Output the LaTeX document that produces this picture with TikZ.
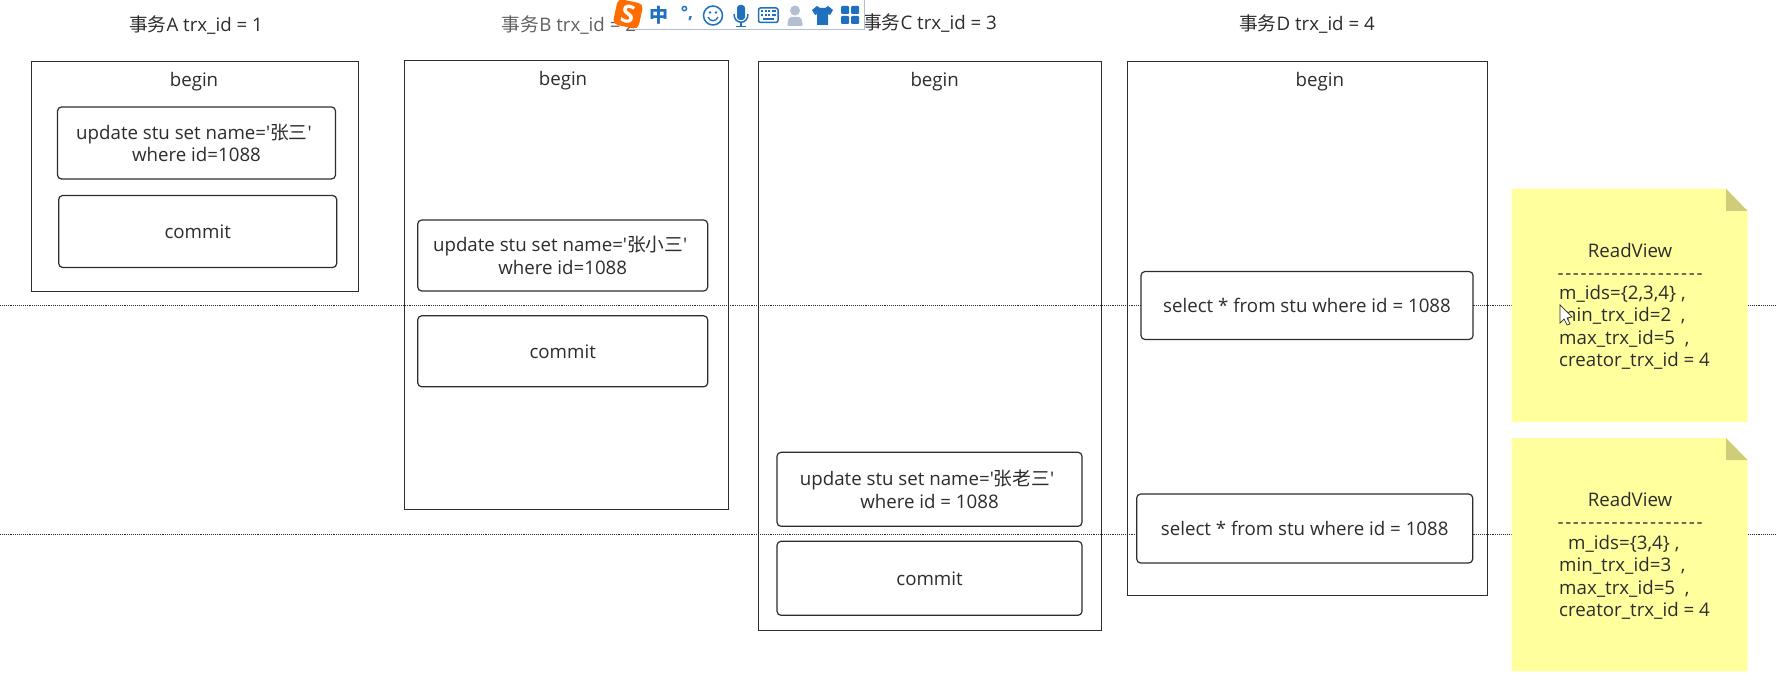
\documentclass[tikz,border=0pt]{standalone}
\usepackage{fontspec}
\setmainfont{Open Sans}
\newfontfamily\cjk{Noto Sans CJK SC}
\usetikzlibrary{positioning}
\definecolor{inkcolor}{RGB}{45,45,45}
\definecolor{notecolor}{RGB}{255,255,158}
\definecolor{foldcolor}{RGB}{205,205,122}
\definecolor{imecolor}{RGB}{32,112,192}
\definecolor{imegrey}{RGB}{178,190,210}
\newcommand{\qname}[1]{name=\textquotesingle{\cjk #1}\textquotesingle\hspace*{5pt}}
\newcommand{\titletext}[2]{{\cjk 事务}#1 trx\_id = #2}
\newcommand{\dashtext}{\foreach \i in {1,...,19}{-\hspace{1.7pt}}}

\begin{document}
\begin{tikzpicture}[
    x=1pt, y=-1pt,
    font=\fontsize{18.7}{22.5}\selectfont,
    every node/.style={text=inkcolor},
    frame/.style={draw=inkcolor, line width=1.2pt, inner sep=0pt},
    stmt/.style={draw=inkcolor, fill=white, line width=1.2pt, rounded corners=4pt, inner sep=0pt, align=center},
    timeline/.style={densely dotted, line width=0.9pt, draw=inkcolor},
    note/.style={fill=notecolor},
    fold/.style={fill=foldcolor},
    icon/.style={fill=imecolor, draw=none}
]
    \useasboundingbox (0,0) rectangle (1784,684);
    \fill[white] (0,0) rectangle (1784,684);

    % time lines
    \coordinate (lineAl) at (0,305);
    \coordinate (lineAr) at (1776,305);
    \coordinate (lineBl) at (0,534);
    \coordinate (lineBr) at (1776,534);
    \draw[timeline] (lineAl) -- (lineAr);
    \draw[timeline] (lineBl) -- (lineBr);

    % titles
    \node (titleA) at (196,25) {\titletext{A}{1}};
    \node[text=inkcolor!75] (titleB) at (569,25) {\titletext{B}{2}};
    \node (titleC) at (930,23.5) {\titletext{C}{3}};
    \node (titleD) at (1307,24.5) {\titletext{D}{4}};

    % transaction frames
    \node[frame, minimum width=327pt, minimum height=230pt] (frameA) at (195,176.5) {};
    \node[frame, minimum width=324pt, minimum height=449pt] (frameB) at (566.5,285) {};
    \node[frame, minimum width=343pt, minimum height=569pt] (frameC) at (929.6,346) {};
    \node[frame, minimum width=360pt, minimum height=534pt] (frameD) at (1307.5,328.5) {};
    \node (beginA) at (194,82) {begin};
    \node (beginB) at (563,81) {begin};
    \node (beginC) at (934.7,82) {begin};
    \node (beginD) at (1319.8,82) {begin};

    % statements
    \node[stmt, minimum width=278pt, minimum height=72pt] (updateA) at (196.5,143) {update stu set \qname{张三}\\where id=1088};
    \node[stmt, minimum width=278pt, minimum height=72pt] (commitA) at (197.7,231.5) {commit};
    \node[stmt, minimum width=290pt, minimum height=71pt] (updateB) at (562.7,255.5) {update stu set \qname{张小三}\\where id=1088};
    \node[stmt, minimum width=290pt, minimum height=71pt] (commitB) at (562.7,351.3) {commit};
    \node[stmt, minimum width=305pt, minimum height=74pt] (updateC) at (929.5,489.3) {update stu set \qname{张老三}\\where id = 1088};
    \node[stmt, minimum width=305pt, minimum height=74pt] (commitC) at (929.5,578.3) {commit};
    \node[stmt, minimum width=332pt, minimum height=68pt] (selectA) at (1307,305.5) {select * from stu where id = 1088};
    \node[stmt, minimum width=336pt, minimum height=69pt] (selectB) at (1304.7,528.5) {\raisebox{1pt}{select * from stu where id = 1088}};

    % read views
    \fill[note] (1511.5,188.7) -- (1726,188.7) -- (1747.5,211) -- (1747.5,422) -- (1511.5,422) -- cycle;
    \fill[fold] (1726,188.7) -- (1747.5,211) -- (1726,211) -- cycle;
    \fill[note] (1511.5,438) -- (1726,438) -- (1747.5,460) -- (1747.5,671.3) -- (1511.5,671.3) -- cycle;
    \fill[fold] (1726,438) -- (1747.5,460) -- (1726,460) -- cycle;
    \node (viewA) at (1630,250) {ReadView};
    \node (dashA) at (1630,277) {\dashtext};
    \node[anchor=north west, inner sep=0pt, align=left] (fieldsA) at (1559,285) {m\_ids=\{2,3,4\}\ ,\\min\_trx\_id=2\ \ ,\\max\_trx\_id=5\ \ ,\\creator\_trx\_id = 4};
    \node (viewB) at (1630,499) {ReadView};
    \node (dashB) at (1630,526) {\dashtext};
    \node[anchor=north west, inner sep=0pt, align=left] (fieldsB) at (1559,535) {\hspace{9pt}m\_ids=\{3,4\}\ ,\\min\_trx\_id=3\ \ ,\\max\_trx\_id=5\ \ ,\\creator\_trx\_id = 4};

    % mouse pointer
    \draw[inkcolor, fill=white, line width=0.7pt] (1560,305) -- (1560,323) -- (1564,319) -- (1567,325) -- (1570,324) -- (1567,318) -- (1572,317) -- cycle;

    % input method bar
    \fill[white] (632,0) rectangle (864,29);
    \draw[imegrey, line width=0.8pt] (632,29) -- (864,29) -- (864,0);
    \node[fill=orange!85!red, rounded corners=5pt, rotate=-12, minimum size=26pt, inner sep=0pt, text=white, font=\fontsize{25}{25}\selectfont\bfseries] (logo) at (628,14) {S};
    \node[text=imecolor, font=\fontsize{19}{19}\cjk\bfseries] (imeZh) at (659,15) {中};
    \node[text=imecolor, font=\fontsize{17}{17}\selectfont\bfseries] (imePunct) at (687,13) {°,};
    \draw[imecolor, line width=1.5pt] (713,15.5) circle (9.5pt);
    \fill[imecolor] (710,12.5) circle (1.3pt) (716,12.5) circle (1.3pt);
    \draw[imecolor, line width=1.3pt] (708,17) .. controls (710,22) and (716,22) .. (718,17);
    \fill[imecolor, rounded corners=3pt] (737,5) rectangle (745,20);
    \draw[imecolor, line width=1.5pt] (734,14) .. controls (734,25) and (748,25) .. (748,14);
    \draw[imecolor, line width=1.5pt] (741,23) -- (741,26) (736,26.5) -- (746,26.5);
    \draw[imecolor, line width=1.5pt, rounded corners=2pt] (758.5,8) rectangle (778,22.5);
    \foreach \row in {11.5,15} \foreach \col in {762,765.5,769,772.5,775}
        \fill[imecolor] (\col-1,\row-1) rectangle (\col+1,\row+1);
    \fill[imecolor] (763,18) rectangle (774,20);
    \fill[imegrey] (795,10.5) circle (5pt);
    \fill[imegrey, rounded corners=2pt] (787,26) -- (789,17) -- (801,17) -- (803,26) -- cycle;
    \fill[imecolor] (817,6) -- (820,8) -- (825,8) -- (828,6) -- (833,10) -- (830,15) -- (828,14) -- (828,25) -- (817,25) -- (817,14) -- (815,15) -- (812,10) -- cycle;
    \foreach \col/\row in {841/6,851/6,841/16,851/16}
        \fill[icon, rounded corners=1pt] (\col,\row) rectangle ++(8,8);
\end{tikzpicture}
\end{document}
